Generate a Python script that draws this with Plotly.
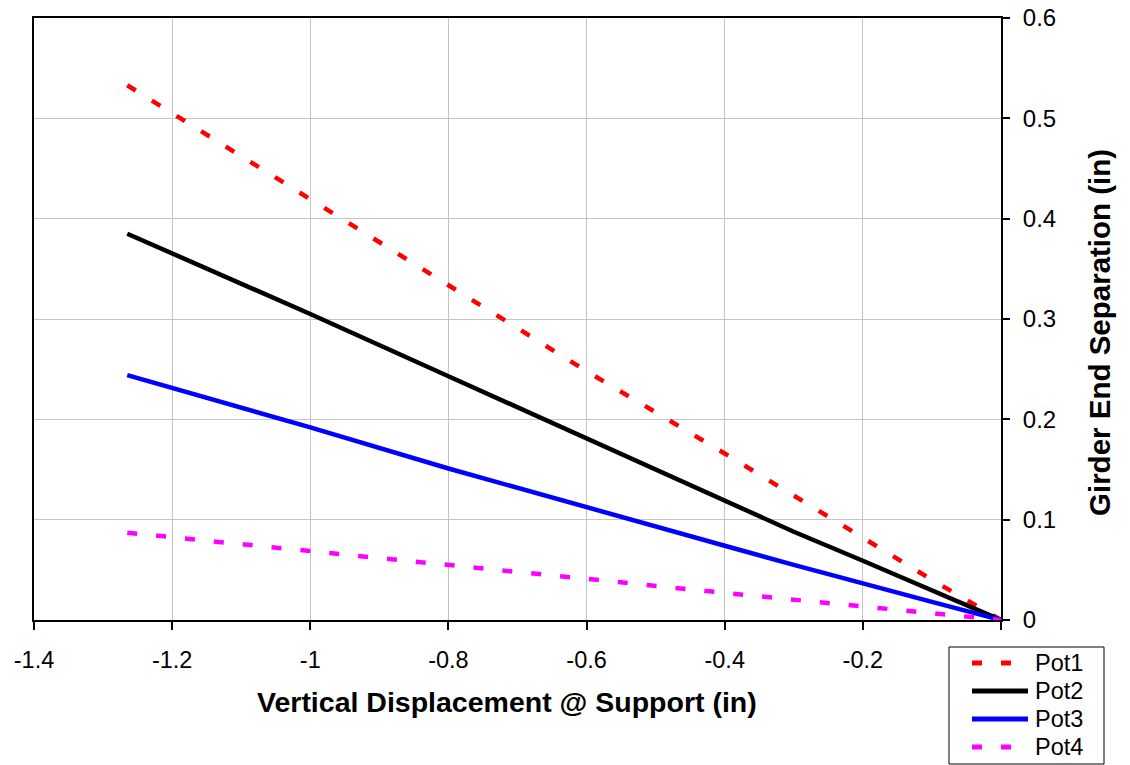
import plotly.graph_objects as go

# Support displacement (in) at which each reading was taken
displacement = [-1.265, -1.0, -0.8, -0.6, -0.4, -0.3, -0.2, -0.1, 0.0]

# Girder end separation (in) for each potentiometer
pot1 = [0.533, 0.419, 0.333, 0.248, 0.166, 0.124, 0.081, 0.040, 0.0]
pot2 = [0.385, 0.305, 0.243, 0.181, 0.120, 0.088, 0.059, 0.029, 0.0]
pot3 = [0.244, 0.192, 0.151, 0.112, 0.074, 0.055, 0.036, 0.018, 0.0]
pot4 = [0.087, 0.069, 0.055, 0.041, 0.027, 0.020, 0.013, 0.006, 0.0]

series_names = ["Pot1", "Pot2", "Pot3", "Pot4"]
series_values = [pot1, pot2, pot3, pot4]
series_colors = ["#ff0000", "#000000", "#0000ff", "#ff00ff"]
series_dashes = ["10px,19px", "solid", "solid", "10px,19px"]

# The tick at 0 carries no label (the legend sits beneath it)
x_ticks = [-1.4, -1.2, -1.0, -0.8, -0.6, -0.4, -0.2, 0.0]
x_tick_text = ["-1.4", "-1.2", "-1", "-0.8", "-0.6", "-0.4", "-0.2", ""]
y_ticks = [0, 0.1, 0.2, 0.3, 0.4, 0.5, 0.6]
y_tick_text = ["0", "0.1", "0.2", "0.3", "0.4", "0.5", "0.6"]

x_title = "Vertical Displacement @ Support (in)"
y_title = "Girder End Separation (in)"

W, H = 1130, 765
M_L, M_R, M_T, M_B = 34, 129, 18, 145
FONT = "Liberation Sans, Arial, sans-serif"

fig = go.Figure()
for name, vals, color, dash in zip(series_names, series_values,
                                   series_colors, series_dashes):
    fig.add_trace(go.Scatter(
        x=displacement, y=vals, name=name, mode="lines",
        line=dict(color=color, width=4.5, dash=dash),
        showlegend=False,
    ))

plot_w = W - M_L - M_R
plot_h = H - M_T - M_B


def px_to_paper(px, py):
    return (px - M_L) / plot_w, (H - M_B - py) / plot_h


# Boxed legend below the right end of the x axis, with long line samples
box_left, box_top, box_right, box_bottom = 949, 647, 1104, 764
sample_x0, sample_x1, text_x = 972, 1028, 1033
row_y0, row_step = 663, 28

shapes = []
annotations = []
bx0, by0 = px_to_paper(box_left, box_bottom)
bx1, by1 = px_to_paper(box_right, box_top)
shapes.append(dict(type="rect", xref="paper", yref="paper",
                   x0=bx0, y0=by0, x1=bx1, y1=by1,
                   line=dict(color="black", width=1), fillcolor="white",
                   layer="above"))
for i, (name, color, dash) in enumerate(zip(series_names, series_colors,
                                            series_dashes)):
    ry = row_y0 + i * row_step
    sx0, sy = px_to_paper(sample_x0, ry)
    sx1, _ = px_to_paper(sample_x1, ry)
    shapes.append(dict(type="line", xref="paper", yref="paper",
                       x0=sx0, y0=sy, x1=sx1, y1=sy, layer="above",
                       line=dict(color=color, width=5, dash=dash)))
    tx, ty = px_to_paper(text_x, ry)
    annotations.append(dict(text=name, xref="paper", yref="paper",
                            x=tx, y=ty, xanchor="left", yanchor="middle",
                            showarrow=False,
                            font=dict(family=FONT, size=23.5, color="black")))

# Axis titles placed as annotations
xtx, xty = px_to_paper(507, 702)
annotations.append(dict(text=f"<b>{x_title}</b>", xref="paper", yref="paper",
                        x=xtx, y=xty, xanchor="center", yanchor="middle",
                        showarrow=False,
                        font=dict(family=FONT, size=28.5, color="black")))
ytx, yty = px_to_paper(1099, 333)
annotations.append(dict(text=f"<b>{y_title}</b>", xref="paper", yref="paper",
                        x=ytx, y=yty, xanchor="center", yanchor="middle",
                        textangle=-90, showarrow=False,
                        font=dict(family=FONT, size=29.5, color="black")))

fig.update_layout(
    width=W, height=H,
    margin=dict(l=M_L, r=M_R, t=M_T, b=M_B, autoexpand=False),
    paper_bgcolor="white", plot_bgcolor="white",
    font=dict(family=FONT, color="black", size=23),
    showlegend=False,
    shapes=shapes,
    annotations=annotations,
    xaxis=dict(
        range=[-1.4, 0], tickvals=x_ticks, ticktext=x_tick_text,
        showgrid=True, gridcolor="#c4c4c4", gridwidth=1,
        showline=True, linecolor="black", linewidth=2, mirror=True,
        ticks="outside", ticklen=8, tickcolor="black", tickwidth=1.5,
        ticklabelstandoff=10,
        tickfont=dict(size=23.5), zeroline=False, automargin=False,
    ),
    yaxis=dict(
        range=[0, 0.6], tickvals=y_ticks, ticktext=y_tick_text,
        side="right",
        showgrid=True, gridcolor="#c4c4c4", gridwidth=1,
        showline=True, linecolor="black", linewidth=2, mirror=True,
        ticks="outside", ticklen=7, tickcolor="black", tickwidth=1.5,
        ticklabelstandoff=8,
        tickfont=dict(size=24), zeroline=False, automargin=False,
    ),
)

fig.write_html("out.html")
